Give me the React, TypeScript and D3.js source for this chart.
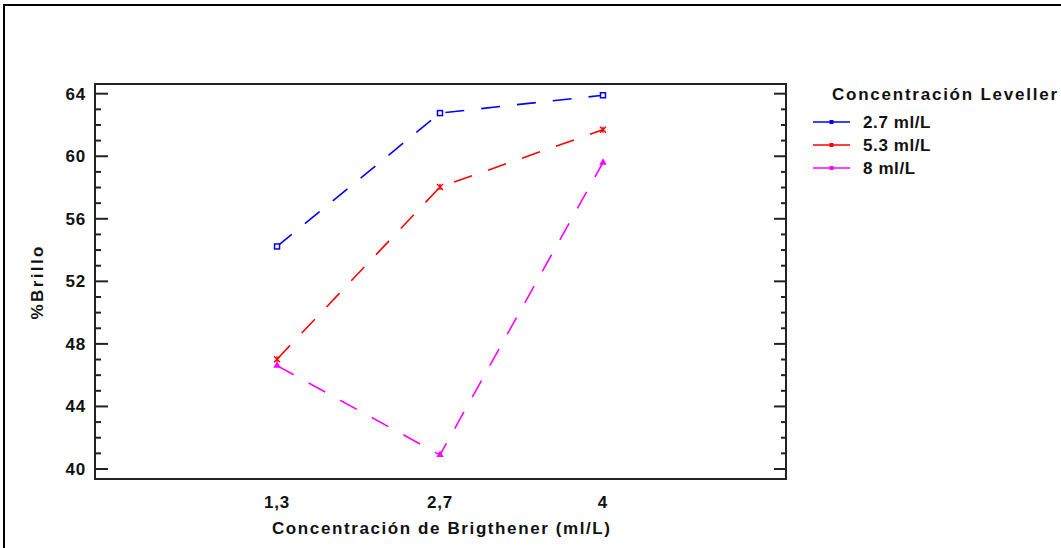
import React from "react";
import * as d3 from "d3";

const categories = ["1,3", "2,7", "4"];
const yTicks = [40, 44, 48, 52, 56, 60, 64];
const minorTicks = d3.range(40, 65, 1);
const series2_7 = [54.23, 62.76, 63.9];
const series5_3 = [47.02, 58.03, 61.7];
const series8 = [46.61, 40.9, 59.6];
const seriesNames = ["2.7 ml/L", "5.3 ml/L", "8 ml/L"];
const seriesColors = ["#0000ff", "#ff0000", "#ff00ff"];
const seriesMarkers = ["square", "star", "triangle"];

const W = 1061;
const H = 548;
const plot = { left: 95, right: 786, top: 84, bottom: 479 };
const FONT = "'Liberation Sans', Arial, sans-serif";

const x = d3.scaleLinear().domain([-1.117, 3.123]).range([plot.left, plot.right]);
const y = d3.scaleLinear().domain([39.36, 64.62]).range([plot.bottom, plot.top]);

function Marker({ kind, cx, cy, color }: { kind: string; cx: number; cy: number; color: string }) {
  if (kind === "square") {
    return <rect x={cx - 2.5} y={cy - 2.5} width={5} height={5} fill="white" stroke={color} strokeWidth={1.5} />;
  }
  if (kind === "star") {
    const r = 3;
    return (
      <g stroke={color} strokeWidth={1.4}>
        <line x1={cx - r} y1={cy - r} x2={cx + r} y2={cy + r} />
        <line x1={cx - r} y1={cy + r} x2={cx + r} y2={cy - r} />
        <line x1={cx} y1={cy - r} x2={cx} y2={cy + r} />
      </g>
    );
  }
  const p = d3.symbol(d3.symbolTriangle, 24)();
  return <path d={p || ""} transform={`translate(${cx},${cy})`} fill={color} />;
}

export default function App() {
  const allSeries = [series2_7, series5_3, series8];
  const line = d3
    .line<number>()
    .x((_, i) => x(i))
    .y((d) => y(d));

  return (
    <svg width={W} height={H} style={{ position: "absolute", left: 0, top: 0, background: "white" }}>
      <rect x={0} y={0} width={W} height={H} fill="white" />
      {/* outer frame */}
      <rect x={4} y={5} width={W + 10} height={H + 10} fill="none" stroke="#000" strokeWidth={2} />

      {/* ticks */}
      {minorTicks.map((t) => {
        const major = t % 4 === 0;
        return (
          <g key={"t" + t} stroke="#222" strokeWidth={2}>
            <line x1={plot.left} x2={plot.left + (major ? 13 : 6)} y1={y(t)} y2={y(t)} />
            <line x1={plot.right} x2={plot.right - (major ? 12 : 5)} y1={y(t)} y2={y(t)} />
          </g>
        );
      })}

      {/* plot frame */}
      <rect
        x={plot.left}
        y={plot.top}
        width={plot.right - plot.left}
        height={plot.bottom - plot.top}
        fill="none"
        stroke="#222"
        strokeWidth={2}
      />

      {/* y tick labels */}
      {yTicks.map((t) => (
        <text
          key={"yl" + t}
          x={86}
          y={y(t) + 6}
          textAnchor="end"
          fontFamily={FONT}
          fontWeight="bold"
          fontSize={17}
          letterSpacing={0.8}
          fill="#111"
        >
          {t}
        </text>
      ))}

      {/* x tick labels */}
      {categories.map((c, i) => (
        <text
          key={"xl" + c}
          x={x(i)}
          y={508}
          textAnchor="middle"
          fontFamily={FONT}
          fontWeight="bold"
          fontSize={17}
          letterSpacing={0.8}
          fill="#111"
        >
          {c}
        </text>
      ))}

      {/* axis titles */}
      <text
        x={441}
        y={534}
        textAnchor="middle"
        fontFamily={FONT}
        fontWeight="bold"
        fontSize={17}
        textLength={338}
        lengthAdjust="spacing"
        fill="#111"
      >
        Concentración de Brigthener (ml/L)
      </text>
      <text
        transform={`translate(43,283) rotate(-90)`}
        textAnchor="middle"
        fontFamily={FONT}
        fontWeight="bold"
        fontSize={17}
        textLength={73}
        lengthAdjust="spacing"
        fill="#111"
      >
        %Brillo
      </text>

      {/* series */}
      {allSeries.map((s, k) => (
        <g key={"s" + k}>
          <path
            d={line(s) || ""}
            fill="none"
            stroke={seriesColors[k]}
            strokeWidth={1.6}
            strokeDasharray="19 17"
          />
          {s.map((v, i) => (
            <Marker key={i} kind={seriesMarkers[k]} cx={x(i)} cy={y(v)} color={seriesColors[k]} />
          ))}
        </g>
      ))}

      {/* legend */}
      <text
        x={832}
        y={100}
        fontFamily={FONT}
        fontWeight="bold"
        fontSize={17}
        textLength={225}
        lengthAdjust="spacing"
        fill="#111"
      >
        Concentración Leveller
      </text>
      {seriesNames.map((n, k) => {
        const ly = 122 + k * 23;
        return (
          <g key={"lg" + k}>
            <line x1={813} x2={850} y1={ly} y2={ly} stroke={seriesColors[k]} strokeWidth={1.6} />
            <rect x={829.5} y={ly - 2} width={4} height={4} fill={seriesColors[k]} />
            <text x={863} y={ly + 6} fontFamily={FONT} fontWeight="bold" fontSize={17} letterSpacing={0.6} fill="#111">
              {n}
            </text>
          </g>
        );
      })}
    </svg>
  );
}
